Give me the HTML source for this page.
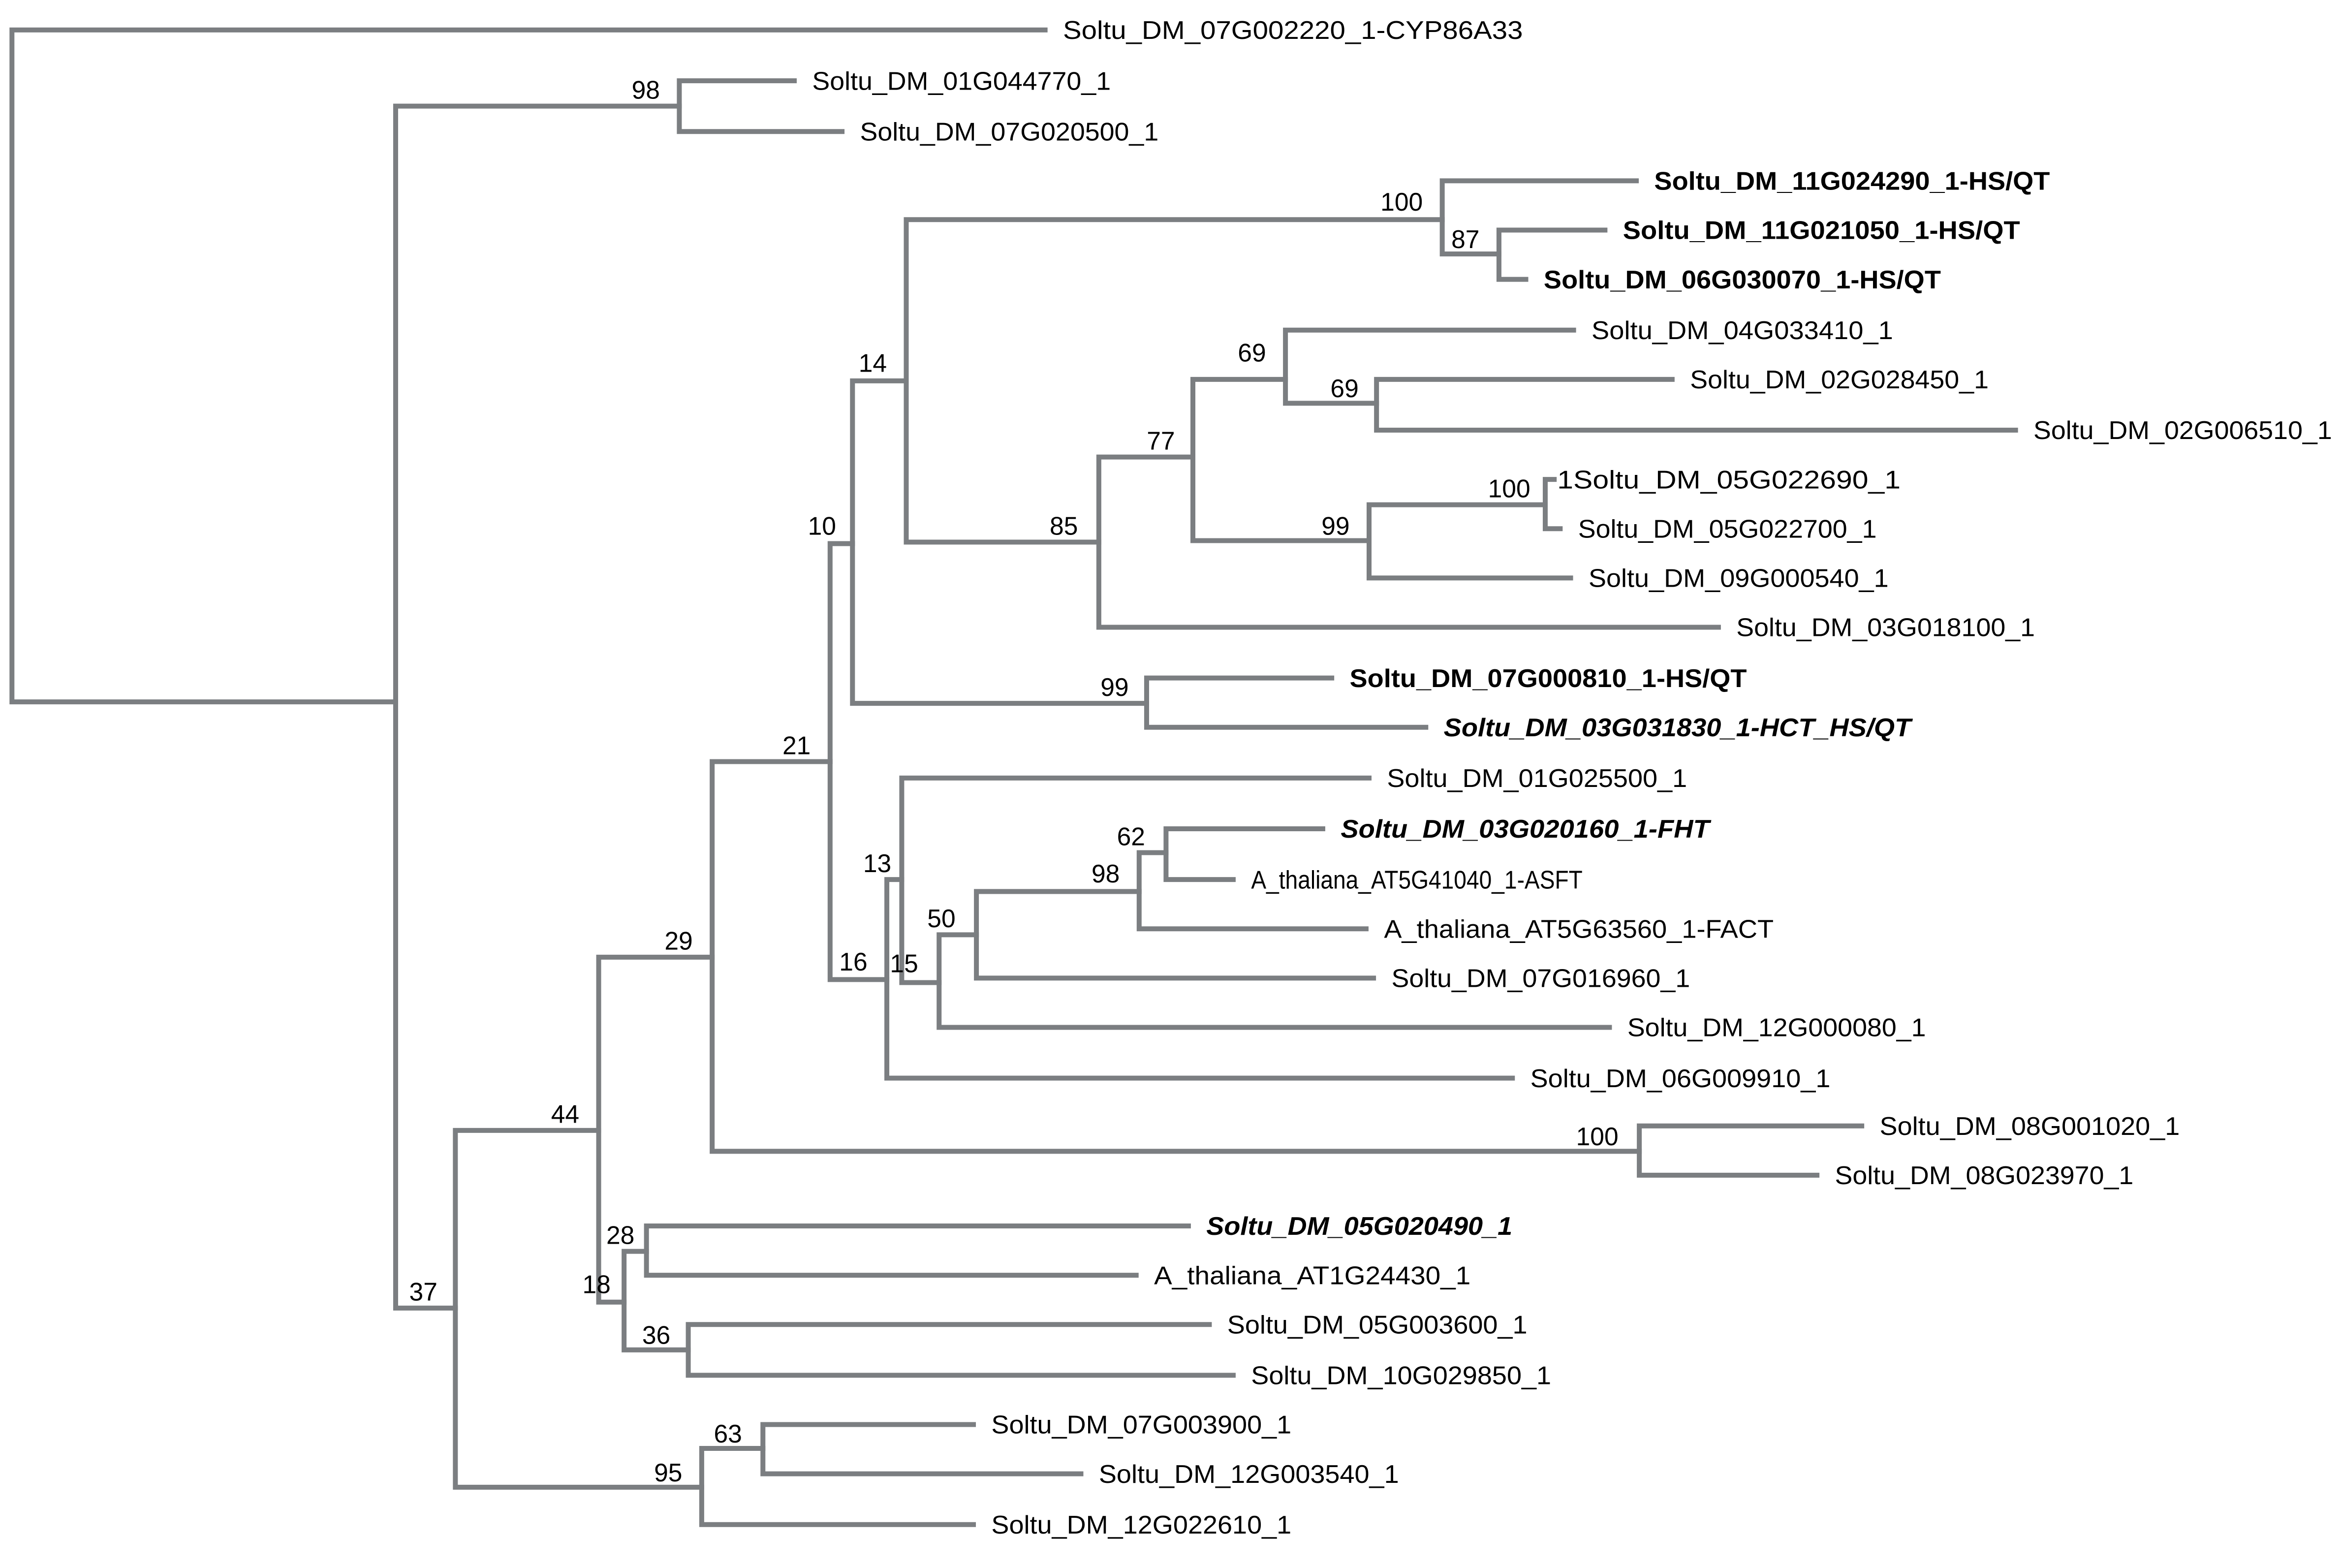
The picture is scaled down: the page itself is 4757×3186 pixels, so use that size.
<!DOCTYPE html>
<html><head><meta charset="utf-8"><style>
html,body{margin:0;padding:0;background:#fff;}
svg{display:block;}
text{font-family:"Liberation Sans",Arial,sans-serif;fill:#000;}
.l{font-size:17px;}
.b{font-size:17px;font-weight:bold;}
.bi{font-size:17px;font-weight:bold;font-style:italic;}
.n{font-size:17px;text-anchor:end;}
</style></head><body>
<svg width="4757" height="3186" viewBox="0 0 1568 1050" xmlns="http://www.w3.org/2000/svg">
<g stroke="#7b7e81" stroke-width="3.3" fill="none" stroke-linecap="square">
<path d="M8 20V470M8 20H700M8 470H265"/>
<path d="M265 71V876M265 71H455M265 876H305"/>
<path d="M455 54V88M455 54H532M455 88H564"/>
<path d="M305 757V996M305 757H401M305 996H470"/>
<path d="M401 641V872M401 641H477M401 872H418"/>
<path d="M477 510V771M477 510H556M477 771H1098"/>
<path d="M556 364V656M556 364H571M556 656H594"/>
<path d="M571 255V471M571 255H607M571 471H768"/>
<path d="M607 147V363M607 147H966M607 363H736"/>
<path d="M966 121V170M966 121H1096M966 170H1004"/>
<path d="M1004 154V187M1004 154H1075M1004 187H1022"/>
<path d="M736 306V420M736 306H799M736 420H1151"/>
<path d="M799 254V362M799 254H861M799 362H917"/>
<path d="M861 221V270M861 221H1054M861 270H922"/>
<path d="M922 254V288M922 254H1120M922 288H1350"/>
<path d="M917 338V387M917 338H1035M917 387H1052"/>
<path d="M1035 321V354M1035 321H1041M1035 354H1045"/>
<path d="M768 454V487M768 454H892M768 487H955"/>
<path d="M594 589V722M594 589H604M594 722H1013"/>
<path d="M604 521V658M604 521H917M604 658H629"/>
<path d="M629 626V688M629 626H654M629 688H1078"/>
<path d="M654 597V655M654 597H763M654 655H920"/>
<path d="M763 571V622M763 571H781M763 622H915"/>
<path d="M781 555V589M781 555H886M781 589H826"/>
<path d="M1098 754V787M1098 754H1247M1098 787H1217"/>
<path d="M418 838V904M418 838H433M418 904H461"/>
<path d="M433 821V854M433 821H796M433 854H761"/>
<path d="M461 887V921M461 887H810M461 921H826"/>
<path d="M470 970V1021M470 970H511M470 1021H652"/>
<path d="M511 954V987M511 954H652M511 987H724"/>
</g>
<g>
<text class="l" x="712" y="26" textLength="308" lengthAdjust="spacingAndGlyphs">Soltu_DM_07G002220_1-CYP86A33</text>
<text class="l" x="544" y="60" textLength="200" lengthAdjust="spacingAndGlyphs">Soltu_DM_01G044770_1</text>
<text class="l" x="576" y="94" textLength="200" lengthAdjust="spacingAndGlyphs">Soltu_DM_07G020500_1</text>
<text class="b" x="1108" y="127" textLength="265" lengthAdjust="spacingAndGlyphs">Soltu_DM_11G024290_1-HS/QT</text>
<text class="b" x="1087" y="160" textLength="266" lengthAdjust="spacingAndGlyphs">Soltu_DM_11G021050_1-HS/QT</text>
<text class="b" x="1034" y="193" textLength="266" lengthAdjust="spacingAndGlyphs">Soltu_DM_06G030070_1-HS/QT</text>
<text class="l" x="1066" y="227" textLength="202" lengthAdjust="spacingAndGlyphs">Soltu_DM_04G033410_1</text>
<text class="l" x="1132" y="260" textLength="200" lengthAdjust="spacingAndGlyphs">Soltu_DM_02G028450_1</text>
<text class="l" x="1362" y="294" textLength="200" lengthAdjust="spacingAndGlyphs">Soltu_DM_02G006510_1</text>
<text class="l" x="1043" y="327" textLength="230" lengthAdjust="spacingAndGlyphs">1Soltu_DM_05G022690_1</text>
<text class="l" x="1057" y="360" textLength="200" lengthAdjust="spacingAndGlyphs">Soltu_DM_05G022700_1</text>
<text class="l" x="1064" y="393" textLength="201" lengthAdjust="spacingAndGlyphs">Soltu_DM_09G000540_1</text>
<text class="l" x="1163" y="426" textLength="200" lengthAdjust="spacingAndGlyphs">Soltu_DM_03G018100_1</text>
<text class="b" x="904" y="460" textLength="266" lengthAdjust="spacingAndGlyphs">Soltu_DM_07G000810_1-HS/QT</text>
<text class="bi" x="967" y="493" textLength="313" lengthAdjust="spacingAndGlyphs">Soltu_DM_03G031830_1-HCT_HS/QT</text>
<text class="l" x="929" y="527" textLength="201" lengthAdjust="spacingAndGlyphs">Soltu_DM_01G025500_1</text>
<text class="bi" x="898" y="561" textLength="247" lengthAdjust="spacingAndGlyphs">Soltu_DM_03G020160_1-FHT</text>
<text class="l" x="838" y="595" textLength="222" lengthAdjust="spacingAndGlyphs">A_thaliana_AT5G41040_1-ASFT</text>
<text class="l" x="927" y="628" textLength="261" lengthAdjust="spacingAndGlyphs">A_thaliana_AT5G63560_1-FACT</text>
<text class="l" x="932" y="661" textLength="200" lengthAdjust="spacingAndGlyphs">Soltu_DM_07G016960_1</text>
<text class="l" x="1090" y="694" textLength="200" lengthAdjust="spacingAndGlyphs">Soltu_DM_12G000080_1</text>
<text class="l" x="1025" y="728" textLength="201" lengthAdjust="spacingAndGlyphs">Soltu_DM_06G009910_1</text>
<text class="l" x="1259" y="760" textLength="201" lengthAdjust="spacingAndGlyphs">Soltu_DM_08G001020_1</text>
<text class="l" x="1229" y="793" textLength="200" lengthAdjust="spacingAndGlyphs">Soltu_DM_08G023970_1</text>
<text class="bi" x="808" y="827" textLength="205" lengthAdjust="spacingAndGlyphs">Soltu_DM_05G020490_1</text>
<text class="l" x="773" y="860" textLength="212" lengthAdjust="spacingAndGlyphs">A_thaliana_AT1G24430_1</text>
<text class="l" x="822" y="893" textLength="201" lengthAdjust="spacingAndGlyphs">Soltu_DM_05G003600_1</text>
<text class="l" x="838" y="927" textLength="201" lengthAdjust="spacingAndGlyphs">Soltu_DM_10G029850_1</text>
<text class="l" x="664" y="960" textLength="201" lengthAdjust="spacingAndGlyphs">Soltu_DM_07G003900_1</text>
<text class="l" x="736" y="993" textLength="201" lengthAdjust="spacingAndGlyphs">Soltu_DM_12G003540_1</text>
<text class="l" x="664" y="1027" textLength="201" lengthAdjust="spacingAndGlyphs">Soltu_DM_12G022610_1</text>
</g>
<g>
<text class="n" x="442" y="66">98</text>
<text class="n" x="293" y="871">37</text>
<text class="n" x="388" y="752">44</text>
<text class="n" x="464" y="636">29</text>
<text class="n" x="543" y="505">21</text>
<text class="n" x="560" y="358">10</text>
<text class="n" x="594" y="249">14</text>
<text class="n" x="953" y="141">100</text>
<text class="n" x="991" y="166">87</text>
<text class="n" x="722" y="358">85</text>
<text class="n" x="787" y="301">77</text>
<text class="n" x="848" y="242">69</text>
<text class="n" x="910" y="266">69</text>
<text class="n" x="904" y="358">99</text>
<text class="n" x="1025" y="333">100</text>
<text class="n" x="756" y="466">99</text>
<text class="n" x="597" y="584">13</text>
<text class="n" x="581" y="650">16</text>
<text class="n" x="615" y="651">15</text>
<text class="n" x="640" y="621">50</text>
<text class="n" x="750" y="591">98</text>
<text class="n" x="767" y="566">62</text>
<text class="n" x="1084" y="767">100</text>
<text class="n" x="425" y="833">28</text>
<text class="n" x="409" y="866">18</text>
<text class="n" x="449" y="900">36</text>
<text class="n" x="457" y="992">95</text>
<text class="n" x="497" y="966">63</text>
</g>
</svg>
</body></html>
